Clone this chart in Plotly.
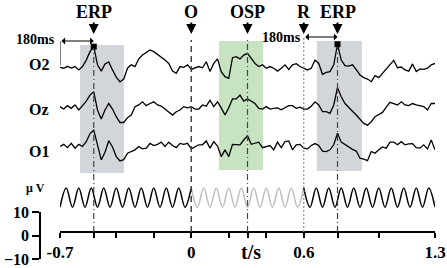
import numpy as np
import plotly.graph_objects as go

# ---------------- data ----------------
# EEG sampling times (s) and amplitudes (uV)
t_eeg = np.round(np.linspace(-0.7, 1.3, 101), 2)

o2_uv = [0.3, -0.1, 0.7, 0.0, 0.6, -0.8, 0.6, 3.3, 6.8, 8.9,
         1.3, -1.3, 1.7, 2.5, -0.8, -3.8, -5.8, -4.6, -0.1, 1.3,
         0.6, 3.8, 5.4, 6.5, 7.5, 6.8, 5.7, 4.3, 3.3, 1.9,
         -1.3, -2.2, 0.6, 0.3, 1.3, -0.6, -0.1, 0.6, 0.1, 2.6,
         -1.5, 1.9, 3.8, -1.5, -3.6, -4.3, 4.3, 4.7, 3.8, 5.4,
         6.1, 3.8, 1.9, 0.6, 1.3, -0.1, 0.6, -0.1, -1.3, -0.1,
         1.3, -0.6, 1.3, 1.8, 0.6, -0.1, -0.8, -0.1, 3.3, 1.9,
         -2.6, -1.8, -1.5, 1.3, 9.9, 3.3, 1.0, 0.8, 1.3, -0.7,
         -2.9, -4.0, -4.6, -5.7, -3.2, -4.0, -2.2, -0.4, 1.3, 3.2,
         0.1, 0.4, -0.8, -1.3, 1.7, -1.5, -0.4, -0.6, -0.1, 1.3,
         1.9]

oz_uv = [0.6, -0.4, 1.0, -0.1, 1.3, -0.8, 1.0, 2.9, 5.4, 6.8,
         -0.8, -4.6, -0.8, 1.9, -0.4, -3.6, -6.0, -6.0, -4.0, -2.9,
         0.6, 1.3, 2.6, 1.0, 1.9, 2.6, 1.3, 0.8, -0.4, -1.5,
         -2.9, -1.5, -0.8, 0.6, 0.1, 0.6, -0.4, -0.4, 1.3, 0.8,
         3.3, 0.6, 2.6, 0.1, -2.9, 0.1, 3.8, 3.8, 5.4, 2.9,
         3.8, 2.9, 1.9, -0.1, -0.4, 0.6, -0.4, -0.1, 0.1, -0.7,
         0.3, 1.0, 1.0, -0.1, 0.4, -0.4, -0.4, 0.8, 2.6, 1.3,
         -1.5, -1.5, -2.2, 1.3, 8.5, 4.7, 1.9, 0.1, -1.3, -2.9,
         -4.6, -6.4, -7.1, -5.7, -3.6, -2.6, -1.8, 0.4, 2.4, 1.9,
         1.3, 2.6, 1.3, 1.0, 1.9, 1.3, 1.0, 0.6, -0.8, 1.9,
         1.9]

o1_uv = [0.6, 1.5, 0.1, 1.9, -0.1, 1.5, 0.6, 2.6, 6.0, 7.4,
         1.3, -5.0, -1.8, 3.0, 0.4, -3.6, -5.4, -4.9, -2.2, -1.5,
         -0.8, 0.6, -0.4, -0.1, 1.9, 1.0, 1.5, 2.4, 0.6, 2.4,
         1.0, 0.1, 1.9, 1.5, 1.9, -0.4, 0.6, 1.3, 1.3, 2.9,
         -0.1, 2.6, 0.8, -3.6, -0.8, -3.6, 1.5, 1.5, 1.3, 3.3,
         5.1, 1.5, 1.9, 2.4, 0.1, 0.6, 1.0, -0.8, 2.4, 0.1,
         2.6, 2.9, -0.8, 1.3, 1.5, -0.1, -0.4, 1.0, 1.8, 1.0,
         -1.3, -1.5, -0.8, 1.3, 6.1, 2.4, 1.3, 0.3, -0.6, -1.3,
         -4.3, -4.7, -5.3, -1.5, -2.2, -0.8, 0.4, -0.1, 2.4, 2.4,
         1.3, 2.6, 1.3, 1.7, 1.8, 0.1, -0.1, 1.3, -0.4, 3.3,
         -0.8]

channels = ["O2", "Oz", "O1"]

# stimulus wave: times of its peaks/troughs (s) and their values (uV)
stim_t = np.round(np.linspace(-0.7, 1.3, 61), 4)
stim_uv = [-4, 4, -4, 4, -4, 4, -4, 4, -4, 4,
           -4, 4, -4, 4, -4, 4, -4, 4, -4, 4,
           -4, 4, -4, 4, -4, 4, -4, 4, -4, 4,
           -4, 4, -4, 4, -4, 4, -4, 4, -4, 4,
           -4, 4, -4, 4, -4, 4, -4, 4, -4, 4,
           -4, 4, -4, 4, -4, 4, -4, 4, -4, 4,
           -4]

event_names = ["ERP", "O", "OSP", "R", "ERP"]
event_times = [-0.52, 0.0, 0.3, 0.6, 0.78]
erp_marker_t = [-0.52, 0.78]
erp_marker_uv = [8.9, 9.9]

window_start = [-0.593, 0.148, 0.67]
window_end = [-0.359, 0.383, 0.91]

xtick_vals = [-0.7, -0.52, -0.4, -0.2, 0.0, 0.2, 0.3, 0.4, 0.6, 0.78, 1.0, 1.3]
xtick_text = ["-0.7", "", "", "", "0", "", "", "", "0.6", "", "", "1.3"]
scale_ticks = [-10, 0, 10]

# ---------------- layout constants ----------------
W, H = 447, 268
FONT = "Liberation Serif"
offsets = [70.0, 53.3, 36.7]      # vertical stacking of channels (uV units)
stim_offset = 16.0


def py(p):
    """pixel row -> main y-axis value"""
    return (236 - p) / 2.4


fig = go.Figure()

# EEG traces
for ch, vals, off in zip(channels, [o2_uv, oz_uv, o1_uv], offsets):
    fig.add_trace(go.Scatter(x=t_eeg, y=np.array(vals) + off, mode="lines",
                             line=dict(color="black", width=1.3),
                             hoverinfo="skip", showlegend=False))

# stimulus wave (black - gray - black)
sv = np.array(stim_uv) + stim_offset
for (a, b, col) in [(0, 21, "black"), (21, 39, "#bdbdbd"), (39, 60, "black")]:
    fig.add_trace(go.Scatter(x=stim_t[a:b + 1], y=sv[a:b + 1], mode="lines",
                             line=dict(color=col, width=1.5, shape="spline", smoothing=1.0),
                             hoverinfo="skip", showlegend=False))

# ERP peak markers
fig.add_trace(go.Scatter(x=erp_marker_t, y=np.array(erp_marker_uv) + offsets[0],
                         mode="markers",
                         marker=dict(symbol="square", size=6, color="black"),
                         hoverinfo="skip", showlegend=False))

# dummy trace for the scale-bar axis
fig.add_trace(go.Scatter(x=[0], y=[0], xaxis="x", yaxis="y2", mode="markers",
                         marker=dict(opacity=0), hoverinfo="skip", showlegend=False))

shapes = []
# shaded windows
win_colors = ["rgba(205,210,215,0.9)", "rgba(196,226,190,0.95)", "rgba(205,210,215,0.9)"]
win_top = [py(45), py(41), py(41)]
win_bot = [py(173), py(170), py(171)]
for s, e, c, t0, b0 in zip(window_start, window_end, win_colors, win_top, win_bot):
    shapes.append(dict(type="rect", xref="x", yref="y", x0=s, x1=e, y0=b0, y1=t0,
                       fillcolor=c, line=dict(width=0), layer="below"))

# event lines
line_tops = [py(48), py(40), py(40), py(37), py(47)]
line_styles = [
    dict(color="#444", width=1.2, dash="6px,3px,1px,3px"),
    dict(color="#444", width=1.5, dash="6px,4px"),
    dict(color="#444", width=1.2, dash="6px,3px,1px,3px"),
    dict(color="#999", width=1.3, dash="2px,2px"),
    dict(color="#444", width=1.2, dash="6px,3px,1px,3px"),
]
for t, top, st in zip(event_times, line_tops, line_styles):
    shapes.append(dict(type="line", xref="x", yref="y", x0=t, x1=t,
                       y0=py(232), y1=top, line=st, layer="above"))

# bracket line for first 180ms
shapes.append(dict(type="line", xref="x", yref="y", x0=-0.7, x1=-0.7,
                   y0=py(41), y1=py(65), line=dict(color="black", width=1)))

annotations = []
# event labels with arrows
for name, t in zip(event_names, event_times):
    annotations.append(dict(x=t, y=py(34), xref="x", yref="y", text=name,
                            showarrow=True, ax=0, ay=-22, arrowhead=2, arrowsize=1,
                            arrowwidth=2, arrowcolor="black", borderpad=0,
                            font=dict(family=FONT, size=18, color="black", weight="bold")))

# 180ms double arrows
for (t0, t1, yy) in [(-0.7, -0.52, py(41)), (0.6, 0.78, py(37))]:
    annotations.append(dict(x=t1, y=yy, ax=t0, ay=yy, xref="x", yref="y",
                            axref="x", ayref="y", text="", showarrow=True,
                            arrowside="end+start", arrowhead=1, startarrowhead=1,
                            arrowsize=1.2, startarrowsize=1.2, arrowwidth=1, arrowcolor="black"))
annotations.append(dict(x=56 / W, y=py(39.5), xref="paper", yref="y", text="180ms",
                        showarrow=False, xanchor="right", borderpad=0,
                        font=dict(family=FONT, size=14, color="black", weight="bold")))
annotations.append(dict(x=302 / W, y=py(37.5), xref="paper", yref="y", text="180ms",
                        showarrow=False, xanchor="right", borderpad=0,
                        font=dict(family=FONT, size=14, color="black", weight="bold")))

# channel labels
for ch, yp in zip(channels, [64.5, 109, 151]):
    annotations.append(dict(x=27 / W, y=py(yp), xref="paper", yref="y", text=ch,
                            showarrow=False,
                            font=dict(family=FONT, size=16, color="black", weight="bold")))

annotations.append(dict(x=24 / W, y=py(188), xref="paper", yref="y", text="μ V",
                        showarrow=False,
                        font=dict(family=FONT, size=12, color="black", weight="bold")))
annotations.append(dict(x=0.32, y=py(252), xref="x", yref="y", text="t/s",
                        showarrow=False,
                        font=dict(family=FONT, size=20, color="black", weight="bold")))

fig.update_layout(
    width=W, height=H,
    margin=dict(l=0, r=0, t=0, b=0, pad=0, autoexpand=False),
    paper_bgcolor="white", plot_bgcolor="rgba(0,0,0,0)",
    showlegend=False,
    xaxis=dict(domain=[60 / W, 435 / W], range=[-0.7, 1.3], anchor="free",
               position=(H - 232) / H, showgrid=False, zeroline=False,
               automargin=False, ticklabeloverflow="allow",
               showline=True, linecolor="black", linewidth=1.5,
               ticks="outside", ticklen=5, tickwidth=1.5, tickcolor="black",
               tickvals=xtick_vals, ticktext=xtick_text,
               tickfont=dict(family=FONT, size=17, color="black", weight="bold")),
    yaxis=dict(domain=[0, 1], range=[py(268), py(0)], visible=False, automargin=False),
    yaxis2=dict(domain=[(H - 259) / H, (H - 212) / H], range=[-10, 10],
                anchor="free", position=40 / W, side="left", automargin=False,
                ticklabeloverflow="allow",
                showgrid=False, zeroline=False, showline=True,
                linecolor="black", linewidth=1.5, ticks="outside", ticklen=7,
                tickwidth=1.5, tickcolor="black", tickvals=scale_ticks,
                tickfont=dict(family=FONT, size=16, color="black", weight="bold")),
    shapes=shapes,
    annotations=annotations,
)

fig.write_html("out.html", config={"displayModeBar": False},
               post_script="document.body.style.margin='0px';document.body.style.padding='0px';")
